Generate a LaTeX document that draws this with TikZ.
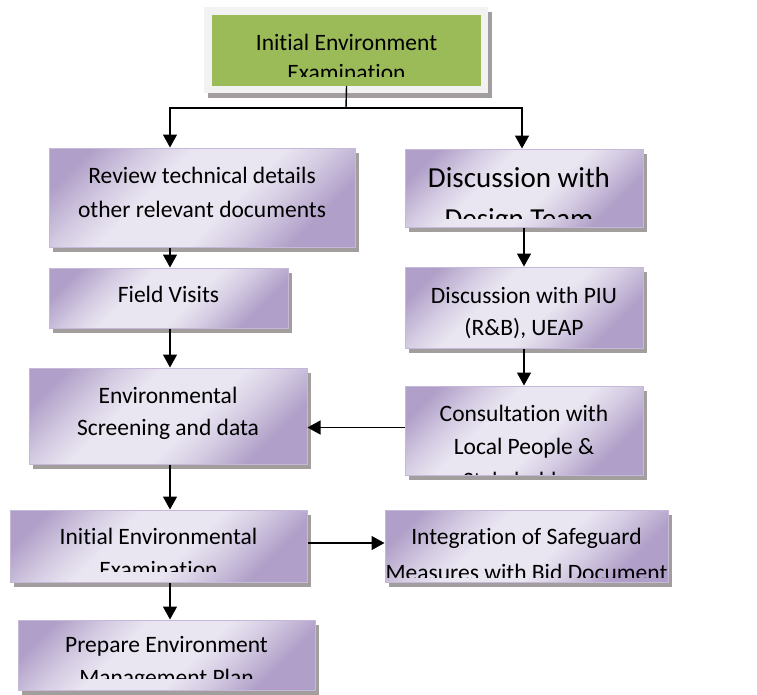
\documentclass[tikz,border=0pt]{standalone}
\usepackage{fontspec}
\setmainfont{Carlito}[Ligatures=NoCommon]
\usetikzlibrary{arrows.meta,shadows}
\definecolor{boxlight}{HTML}{E9E5F1}
\definecolor{boxmid}{HTML}{D4CBE2}
\definecolor{boxdark}{HTML}{B09FC8}
\definecolor{boxline}{HTML}{C6B8D9}
\definecolor{tgreen}{HTML}{9BBB59}
\definecolor{tframe}{HTML}{F2F2F2}
\definecolor{shadowgray}{HTML}{A29E9E}
\pgfdeclarehorizontalshading{boxshade}{100bp}{color(0bp)=(boxdark); color(26bp)=(boxdark); color(36bp)=(boxmid); color(44bp)=(boxlight); color(60bp)=(boxlight); color(68bp)=(boxmid); color(78bp)=(boxdark); color(100bp)=(boxdark)}
\tikzset{
  box/.style={rectangle, draw=boxline, line width=1pt, inner sep=0pt,
    shading=boxshade, shading angle=135,
    drop shadow={shadow xshift=4pt, shadow yshift=-5pt, fill=shadowgray, opacity=1}},
  txt/.style={inner sep=0pt, anchor=base, font=\fontsize{23.5}{28}\selectfont},
  bigtxt/.style={inner sep=0pt, anchor=base, font=\fontsize{29}{34}\selectfont},
  conn/.style={line width=1.4pt, black},
  arr/.style={conn, -{Triangle[width=14pt,length=13pt]}}
}
\begin{document}
\begin{tikzpicture}[x=1pt,y=-1pt]
\useasboundingbox (0,0) rectangle (757,694);
% title
\node[rectangle, fill=tframe, inner sep=0pt, minimum width=284pt, minimum height=86pt,
  drop shadow={shadow xshift=4pt, shadow yshift=-5pt, fill=shadowgray, opacity=1}] (tfr) at (346,50) {};
\node[rectangle, fill=tgreen, inner sep=0pt, minimum width=269pt, minimum height=71pt] (tg) at (346.5,50.5) {};
\begin{scope}
\clip (212,15) rectangle (481,76);
\node[txt] (tg1) at (346.5,50) {Initial Environment};
\node[txt] (tg2) at (346.5,80) {Examination};
\end{scope}
% review
\node[box, minimum width=306pt, minimum height=99pt] (rev) at (202,197.5) {};
\node[txt] (rev1) at (202,183) {Review technical details};
\node[txt] (rev2) at (202,217) {other relevant documents};
% discussion design team
\node[box, minimum width=238pt, minimum height=78pt] (dis) at (524,188) {};
\begin{scope}
\clip (405,149) rectangle (643,218);
\node[bigtxt] (dis1) at (519,187) {Discussion with};
\node[bigtxt] (dis2) at (519,228) {Design Team};
\end{scope}
% field visits
\node[box, minimum width=239pt, minimum height=60pt] (fv) at (168.5,298) {};
\node[txt] (fv1) at (168.5,302) {Field Visits};
% PIU
\node[box, minimum width=238pt, minimum height=81pt] (piu) at (524,307.5) {};
\node[txt] (piu1) at (524,303) {Discussion with PIU};
\node[txt] (piu2) at (524,335) {(R\&B), UEAP};
% environmental screening
\node[box, minimum width=278pt, minimum height=96pt] (env) at (168,416) {};
\node[txt] (env1) at (168,403) {Environmental};
\node[txt] (env2) at (168,435) {Screening and data};
% consultation
\node[box, minimum width=238pt, minimum height=89pt] (con) at (524,430.5) {};
\begin{scope}
\clip (405,386) rectangle (643,474);
\node[txt] (con1) at (524,421) {Consultation with};
\node[txt] (con2) at (524,454) {Local People \&};
\node[txt] (con3) at (524,488) {Stakeholders};
\end{scope}
% initial environmental examination
\node[box, minimum width=297pt, minimum height=72pt] (iee) at (158.5,546) {};
\begin{scope}
\clip (10,510) rectangle (307,571);
\node[txt] (iee1) at (158.5,544) {Initial Environmental};
\node[txt] (iee2) at (158.5,577) {Examination};
\end{scope}
% integration
\node[box, minimum width=283pt, minimum height=72pt] (int) at (526.5,546) {};
\begin{scope}
\clip (385,510) rectangle (668,577);
\node[txt] (int1) at (526.5,544) {Integration of Safeguard};
\node[txt] (int2) at (526.5,580) {Measures with Bid Document};
\end{scope}
% prepare EMP
\node[box, minimum width=297pt, minimum height=70pt] (pre) at (166.5,655) {};
\begin{scope}
\clip (18,620) rectangle (315,678);
\node[txt] (pre1) at (166.5,652) {Prepare Environment};
\node[txt] (pre2) at (166.5,685) {Management Plan};
\end{scope}
% connectors
\coordinate (j) at (346,108);
\coordinate (jl) at (170,108);
\coordinate (jr) at (522,108);
\draw[conn] (tg.south) -- (j);
\draw[arr] (j) -- (jl) -- (jl |- rev.north);
\draw[arr] (j) -- (jr) -- (jr |- dis.north);
\draw[arr] (jl |- rev.south) -- (jl |- fv.north);
\draw[arr] (jl |- fv.south) -- (jl |- env.north);
\draw[arr] (jl |- env.south) -- (jl |- iee.north);
\draw[arr] (jl |- iee.south) -- (jl |- pre.north);
\draw[arr] (dis.south) -- (piu.north);
\draw[arr] (piu.south) -- (con.north);
\draw[arr] ([yshift=3pt]con.west) -- ([yshift=3pt]con.west -| env.east);
\draw[arr] ([yshift=3pt]iee.east) -- ([yshift=3pt]iee.east -| int.west);
\end{tikzpicture}
\end{document}
